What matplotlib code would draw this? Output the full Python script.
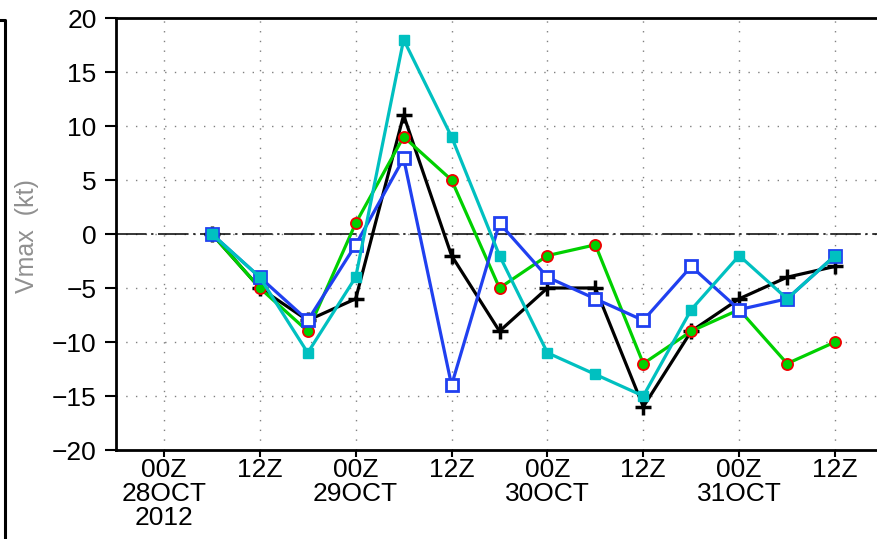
#!/usr/bin/env python3
"""Vmax error time series for 28-31 Oct 2012, four runs."""

import matplotlib
matplotlib.use('Agg')
import matplotlib.pyplot as plt
from matplotlib.lines import Line2D

# forecast hours since 00Z 28 Oct 2012
hours = [6, 12, 18, 24, 30, 36, 42, 48, 54, 60, 66, 72, 78, 84]

vmax_black = [0, -5, -8, -6, 11, -2, -9, -5, -5, -16, -9, -6, -4, -3]
vmax_green = [0, -5, -9, 1, 9, 5, -5, -2, -1, -12, -9, -7, -12, -10]
vmax_blue = [0, -4, -8, -1, 7, -14, 1, -4, -6, -8, -3, -7, -6, -2]
vmax_cyan = [0, -4, -11, -4, 18, 9, -2, -11, -13, -15, -7, -2, -6, -2]

tick_hours = [0, 12, 24, 36, 48, 60, 72, 84]
tick_labels = ['00Z\n28OCT\n2012', '12Z', '00Z\n29OCT', '12Z',
               '00Z\n30OCT', '12Z', '00Z\n31OCT', '12Z']
y_ticks = [-20, -15, -10, -5, 0, 5, 10, 15, 20]


def main():
    plt.rcParams['font.family'] = ['Liberation Sans', 'DejaVu Sans']
    W, H = 877, 539
    fig = plt.figure(figsize=(W / 100, H / 100), dpi=100)
    # right edge runs past the picture (plot was cropped)
    ax = fig.add_axes([116 / W, 1 - 450 / H, (883 - 116) / W, (450 - 18) / H])

    ax.set_xlim(-6, 90)
    ax.set_ylim(-20, 20)

    # grid + zero line
    for h in tick_hours:
        ax.axvline(h, color='#808080', lw=1.0, ls=(0, (1, 6)), zorder=1)
    for v in y_ticks[1:-1]:
        ax.axhline(v, color='#808080', lw=1.0, ls=(0, (1, 6)), zorder=1)
    ax.axhline(0, color='black', lw=1.1, ls=(0, (20, 3, 1.5, 3)), zorder=2)

    ax.plot(hours, vmax_black, color='black', lw=2.3, marker='+', ms=11,
            mew=2.5, zorder=3)
    ax.plot(hours, vmax_green, color='#00d000', lw=2.3, marker='o', ms=8,
            mfc='#00d000', mec='#f00000', mew=1.3, zorder=4)
    ax.plot(hours, vmax_blue, color='#2040f0', lw=2.3, marker='s', ms=8,
            mfc='white', mec='#2040f0', mew=2.0, zorder=5)
    ax.plot(hours, vmax_cyan, color='#00c0c0', lw=2.3, marker='s', ms=7,
            mfc='#00c0c0', mec='#00c0c0', zorder=6)

    ax.set_xticks(tick_hours)
    ax.set_xticklabels(tick_labels, fontsize=19, linespacing=1.0)
    ax.set_yticks(y_ticks)
    ax.tick_params(axis='y', labelsize=19, length=8, width=1.5, pad=6)
    ax.tick_params(axis='x', length=5, width=1.5, pad=1)

    for side in ['left', 'top', 'bottom']:
        ax.spines[side].set_linewidth(2.0)
    ax.spines['right'].set_visible(False)

    fig.text(27 / W, 1 - 236 / H, 'Vmax  (kt)', rotation=90, color='#909090',
             fontsize=18, ha='center', va='center')

    # edge of neighbouring panel on the far left
    fig.add_artist(Line2D([0, 5 / W, 5 / W], [1 - 20 / H, 1 - 20 / H, 0],
                          color='black', lw=2.2, transform=fig.transFigure))

    fig.savefig('out.png', dpi=100)


if __name__ == "__main__":
    main()
